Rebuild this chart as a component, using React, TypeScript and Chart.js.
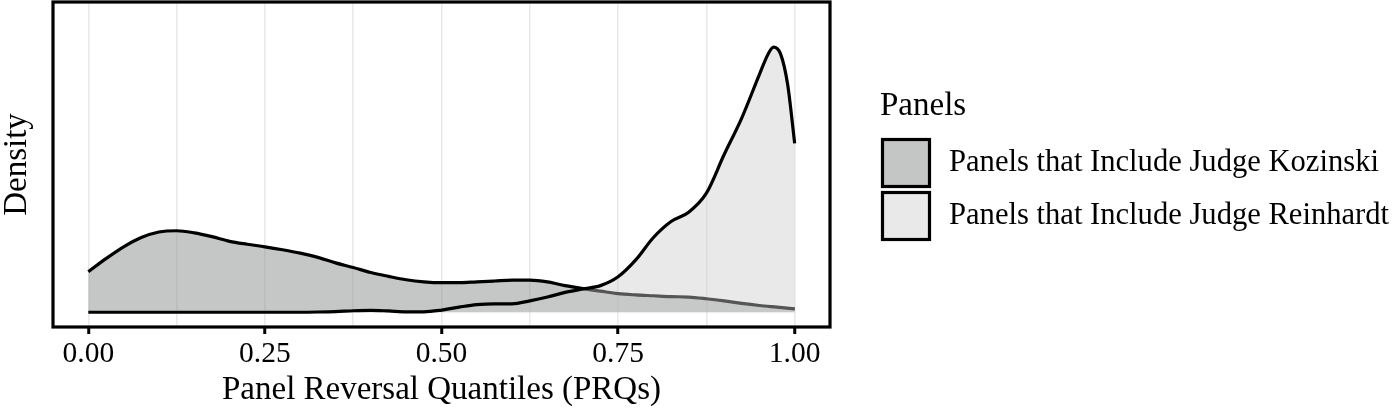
import { useEffect, useRef } from "react";
import { Chart, registerables } from "chart.js";

Chart.register(...registerables);

// Density estimates of panel reversal quantiles, sampled along the PRQ axis
const kozinskiPrq = [
  0, 0.025, 0.05, 0.075, 0.1, 0.125, 0.15, 0.175, 0.2, 0.225, 0.25, 0.275, 0.3, 0.325, 0.35,
  0.375, 0.4, 0.425, 0.45, 0.475, 0.5, 0.525, 0.55, 0.575, 0.6, 0.625, 0.65, 0.675, 0.7,
  0.725, 0.75, 0.775, 0.8, 0.825, 0.85, 0.875, 0.9, 0.925, 0.95, 0.975, 1,
];
const kozinskiDensity = [
  0.96, 1.27, 1.55, 1.77, 1.9, 1.93, 1.88, 1.79, 1.68, 1.61, 1.55, 1.48, 1.4, 1.3, 1.17,
  1.06, 0.94, 0.85, 0.77, 0.72, 0.7, 0.7, 0.72, 0.74, 0.76, 0.76, 0.72, 0.63, 0.56,
  0.5, 0.44, 0.41, 0.39, 0.37, 0.36, 0.32, 0.27, 0.21, 0.16, 0.12, 0.08,
];

const reinhardtPrq = [
  0, 0.05, 0.1, 0.15, 0.2, 0.25, 0.3, 0.325, 0.35, 0.375, 0.4, 0.425, 0.45, 0.475, 0.5,
  0.525, 0.55, 0.575, 0.6, 0.625, 0.65, 0.675, 0.7, 0.725, 0.75, 0.775, 0.8, 0.825, 0.85,
  0.875, 0.9, 0.925, 0.95, 0.9625, 0.97, 0.98, 0.99, 1,
];
const reinhardtDensity = [
  0, 0, 0, 0, 0, 0, 0, 0.005, 0.015, 0.035, 0.045, 0.03, 0.01, 0.01, 0.05,
  0.12, 0.18, 0.2, 0.2, 0.27, 0.36, 0.47, 0.55, 0.63, 0.84, 1.24, 1.77, 2.15, 2.37,
  2.82, 3.73, 4.6, 5.63, 6.12, 6.28, 6.12, 5.4, 4.0,
];

const seriesLabels = ["Panels that Include Judge Kozinski", "Panels that Include Judge Reinhardt"];
const legendTitle = "Panels";
const xTitle = "Panel Reversal Quantiles (PRQs)";
const yTitle = "Density";
const majorTicks = [0, 0.25, 0.5, 0.75, 1];
const minorTicks = [0.125, 0.375, 0.625, 0.875];

const SERIF = "'Liberation Serif', 'DejaVu Serif', serif";
const kozinskiFill = "rgba(140,143,141,0.5)";
const reinhardtFill = "rgba(202,202,202,0.42)";
const legendKozinskiSwatch = "#c4c6c5";
const legendReinhardtSwatch = "#e9e9e9";

const isMajor = (v: number) => majorTicks.some((m) => Math.abs(m - v) < 1e-9);

// Panel frame around the plotting area
const panelFrame = {
  id: "panelFrame",
  afterDatasetsDraw(chart: any) {
    const { ctx, chartArea: a } = chart;
    ctx.save();
    ctx.strokeStyle = "#000";
    ctx.lineWidth = 3.2;
    ctx.strokeRect(a.left, a.top, a.right - a.left, a.bottom - a.top);
    ctx.restore();
  },
};

// Fill legend drawn to the right of the panel
const fillLegend = {
  id: "fillLegend",
  afterDraw(chart: any) {
    const { ctx } = chart;
    const swatches = [legendKozinskiSwatch, legendReinhardtSwatch];
    ctx.save();
    ctx.fillStyle = "#000";
    ctx.font = `33px ${SERIF}`;
    ctx.textBaseline = "alphabetic";
    ctx.textAlign = "left";
    ctx.fillText(legendTitle, 880, 115);
    chart.data.datasets.forEach((ds: any, i: number) => {
      const top = 138 + i * 53;
      ctx.fillStyle = swatches[i];
      ctx.fillRect(882, top + 1, 48, 48);
      ctx.strokeStyle = "#000";
      ctx.lineWidth = 3.2;
      ctx.strokeRect(882.5, top + 1.5, 47, 47);
      ctx.fillStyle = "#000";
      ctx.font = `30.6px ${SERIF}`;
      ctx.textBaseline = "middle";
      ctx.fillText(ds.label, 949, top + 25);
    });
    ctx.restore();
  },
};

export default function App() {
  const canvasRef = useRef<HTMLCanvasElement | null>(null);

  useEffect(() => {
    document.body.style.margin = "0";
    const canvas = canvasRef.current;
    if (!canvas) return;

    const chart = new Chart(canvas, {
      type: "line",
      data: {
        datasets: [
          {
            label: seriesLabels[0],
            data: kozinskiPrq.map((x, i) => ({ x, y: kozinskiDensity[i] })),
            borderColor: "#000",
            borderWidth: 3.2,
            backgroundColor: kozinskiFill,
            fill: "origin",
            pointRadius: 0,
            cubicInterpolationMode: "monotone",
            order: 2,
          },
          {
            label: seriesLabels[1],
            data: reinhardtPrq.map((x, i) => ({ x, y: reinhardtDensity[i] })),
            borderColor: "#000",
            borderWidth: 3.2,
            backgroundColor: reinhardtFill,
            fill: "origin",
            pointRadius: 0,
            cubicInterpolationMode: "monotone",
            order: 1,
          },
        ],
      },
      options: {
        responsive: false,
        animation: false,
        layout: { padding: { top: 2, right: 562, left: 0, bottom: 0 } },
        plugins: {
          legend: { display: false },
          tooltip: { enabled: false },
        },
        scales: {
          x: {
            type: "linear",
            min: -0.05,
            max: 1.05,
            afterBuildTicks: (scale: any) => {
              scale.ticks = [...majorTicks, ...minorTicks]
                .sort((a, b) => a - b)
                .map((value) => ({ value }));
            },
            afterFit: (scale: any) => {
              scale.height = 87;
            },
            border: { display: false },
            grid: {
              color: "#e8e8e8",
              lineWidth: 1.5,
              drawTicks: true,
              tickLength: 7,
              tickWidth: 3,
              tickColor: (c: any) => (c.tick && isMajor(c.tick.value) ? "#000" : "rgba(0,0,0,0)"),
            },
            ticks: {
              autoSkip: false,
              maxRotation: 0,
              padding: 3,
              color: "#000",
              font: { family: SERIF, size: 29.5 },
              callback: (v: any) => (isMajor(Number(v)) ? Number(v).toFixed(2) : ""),
            },
            title: {
              display: true,
              text: xTitle,
              color: "#000",
              font: { family: SERIF, size: 33 },
              padding: { top: 0, bottom: 4 },
            },
          },
          y: {
            type: "linear",
            min: -0.35,
            max: 7.35,
            afterFit: (scale: any) => {
              scale.width = 53;
            },
            border: { display: false },
            grid: { display: false },
            ticks: { display: false },
            title: {
              display: true,
              text: yTitle,
              color: "#000",
              font: { family: SERIF, size: 33, lineHeight: 1 },
              padding: { top: 1, bottom: 0 },
            },
          },
        },
      },
      plugins: [panelFrame, fillLegend],
    });

    return () => chart.destroy();
  }, []);

  return (
    <div style={{ width: 1392, height: 414 }}>
      <canvas ref={canvasRef} width={1392} height={414} style={{ display: "block" }} />
    </div>
  );
}
